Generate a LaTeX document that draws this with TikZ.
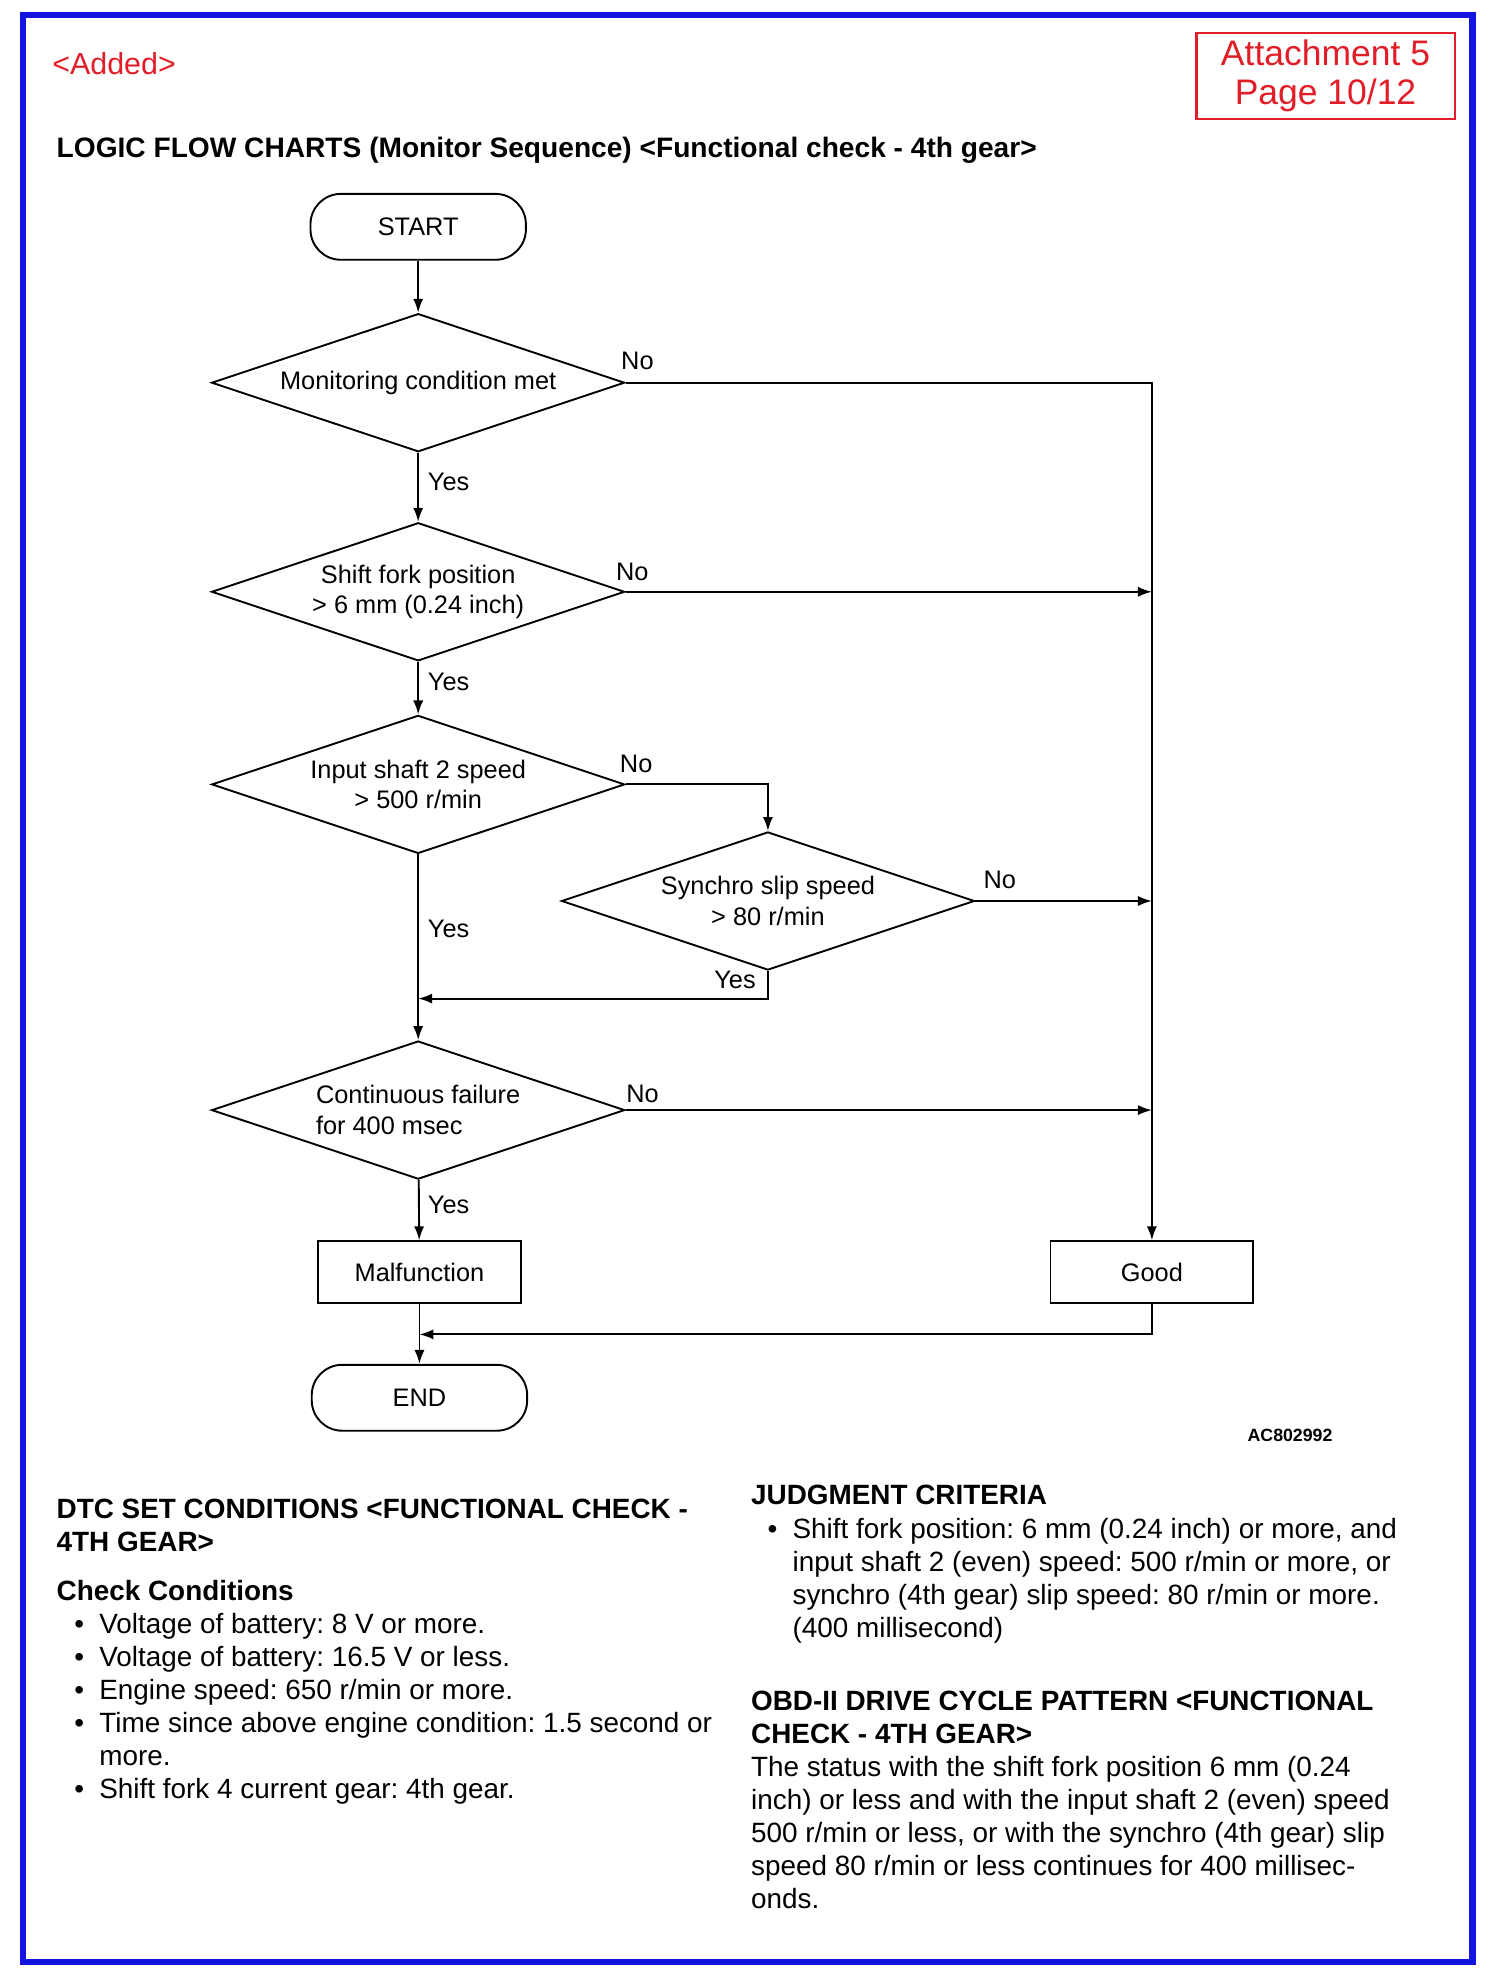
\documentclass[tikz,border=0pt]{standalone}
\usepackage{fontspec}
\setmainfont{Liberation Sans}
\usetikzlibrary{shapes.geometric,arrows.meta}
\frenchspacing

\definecolor{framblue}{RGB}{20,20,225}
\definecolor{markred}{RGB}{225,30,40}

\tikzset{every picture/.style={line width=0.75pt}}
\tikzset{
  decision/.style={draw, diamond, aspect=3, inner sep=0pt, minimum width=163pt, minimum height=54.5pt, align=center, font=\fontsize{10}{12}\selectfont},
  terminal/.style={draw, rectangle, rounded corners=12pt, minimum width=85pt, minimum height=26pt, font=\fontsize{10}{12}\selectfont},
  result/.style={draw, rectangle, minimum width=80pt, minimum height=24.5pt, font=\fontsize{10}{12}\selectfont},
  answer/.style={inner sep=0.75pt, font=\fontsize{10}{12}\selectfont},
  flow/.style={-{Latex[length=5.5pt,width=4pt]}},
  bodytext/.style={anchor=base west, inner sep=0pt, align=left, font=\fontsize{11}{13}\selectfont},
  heading/.style={anchor=base west, inner sep=0pt, align=left, font=\fontsize{11}{13}\selectfont\bfseries},
}

\begin{document}
\begin{tikzpicture}[x=0.5pt,y=0.5pt,yscale=-1,xscale=1]
\useasboundingbox (0,0) rectangle (1180,1568);

%Frame
\draw [color=framblue, line width=2.5pt] (18,12) rectangle (1162,1548);

%Header marks
\node [text=markred, font=\fontsize{12}{14}\selectfont] (added) at (90,50) {<Added>};
\node [draw=markred, line width=1pt, text=markred, minimum width=102pt, minimum height=34pt, inner sep=0pt, align=center, font=\fontsize{14}{15.5}\selectfont] (attach) at (1046,60) {Attachment 5\\Page 10/12};

% Title
\node [heading, font=\fontsize{11.1}{13}\selectfont\bfseries] (title) at (44,124) {LOGIC FLOW CHARTS (Monitor Sequence) <Functional check - 4th gear>};

%Flow chart shapes
\node [terminal] (start) at (330,179) {START};
\node [decision] (mon) at (330,302) {Monitoring condition met};
\node [decision] (fork) at (330,467) {Shift fork position\\> 6 mm (0.24 inch)};
\node [decision] (shaft) at (330,619) {Input shaft 2 speed\\> 500 r/min};
\node [decision] (sync) at (606,711) {Synchro slip speed\\> 80 r/min};
\node [decision, align=left] (fail) at (330,876) {Continuous failure\\for 400 msec};
\node [result] (malf) at (331,1004) {Malfunction};
\node [result] (good) at (909,1004) {Good};
\node [terminal] (end) at (331,1103) {END};

\coordinate (mcorner) at (909,302);
\coordinate (sjoin) at (330,788);
\coordinate (ejoin) at (331,1053);

%Connectors
\draw [flow] (start) -- (mon);
\draw [flow] (mon) -- (fork);
\draw [flow] (mon.east) -- (mcorner) -- (good.north);
\draw [flow] (fork) -- (shaft);
\draw [flow] (fork.east) -- (fork.east -| good.north);
\draw [flow] (shaft.east) -| (sync.north);
\draw [flow] (sync.east) -- (sync.east -| good.north);
\draw [flow] (sync.south) |- (sjoin);
\draw [flow] (shaft) -- (fail);
\draw [flow] (fail.east) -- (fail.east -| good.north);
\draw [flow] (fail) -- (malf);
\draw [flow] (good.south) |- (ejoin);
\draw [flow] (malf) -- (end);

% Text Node
\node [answer] (no1) at (503,285) {No};
\node [answer] (yes1) at (354,380) {Yes};
\node [answer] (no2) at (499,451) {No};
\node [answer] (yes2) at (354,538) {Yes};
\node [answer] (no3) at (502,603) {No};
\node [answer] (yes3) at (354,733) {Yes};
\node [answer] (no4) at (789,694) {No};
\node [answer] (yes4) at (580,773) {Yes};
\node [answer] (no5) at (507,863) {No};
\node [answer] (yes5) at (354,951) {Yes};

\node [font=\fontsize{7}{8}\selectfont\bfseries] (code) at (1018,1133) {AC802992};

%Lower text, left column
\node [heading] (dtc) at (44,1224) {DTC SET CONDITIONS <FUNCTIONAL CHECK -\\4TH GEAR>};
\node [heading] (chkhead) at (44,1263) {Check Conditions};
\node [bodytext] (chklist) at (58,1289) {\begin{tabular}[t]{@{}l@{\hspace{6pt}}l@{}}
\textbullet & Voltage of battery: 8 V or more.\\
\textbullet & Voltage of battery: 16.5 V or less.\\
\textbullet & Engine speed: 650 r/min or more.\\
\textbullet & Time since above engine condition: 1.5 second or\\
 & more.\\
\textbullet & Shift fork 4 current gear: 4th gear.
\end{tabular}};

%Lower text, right column
\node [heading] (judg) at (592,1187) {JUDGMENT CRITERIA};
\node [bodytext] (judglist) at (605,1214) {\begin{tabular}[t]{@{}l@{\hspace{6pt}}l@{}}
\textbullet & Shift fork position: 6 mm (0.24 inch) or more, and\\
 & input shaft 2 (even) speed: 500 r/min or more, or\\
 & synchro (4th gear) slip speed: 80 r/min or more.\\
 & (400 millisecond)
\end{tabular}};
\node [heading] (obd) at (592,1376) {OBD-II DRIVE CYCLE PATTERN <FUNCTIONAL\\CHECK - 4TH GEAR>};
\node [bodytext] (obdtext) at (592,1506) {The status with the shift fork position 6 mm (0.24\\inch) or less and with the input shaft 2 (even) speed\\500 r/min or less, or with the synchro (4th gear) slip\\speed 80 r/min or less continues for 400 millisec-\\onds.};

\end{tikzpicture}
\end{document}
